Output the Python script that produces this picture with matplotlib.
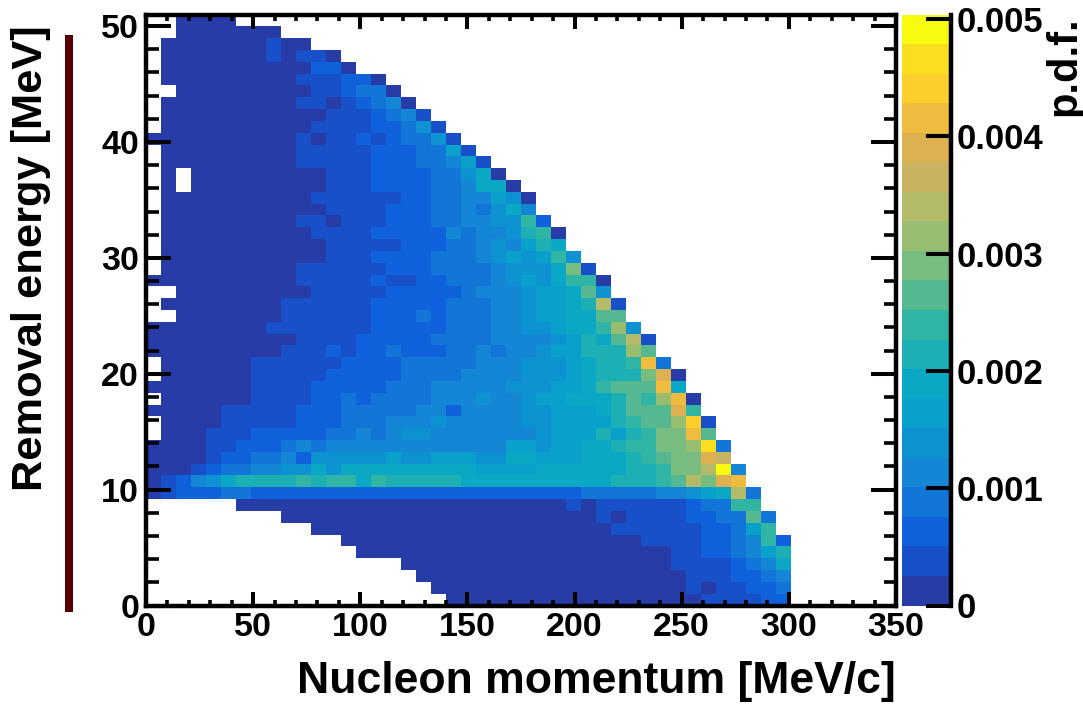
import numpy as np
import matplotlib
matplotlib.use("Agg")
import matplotlib.pyplot as plt
from matplotlib.colors import ListedColormap, BoundaryNorm
from matplotlib.patches import Rectangle

plt.rcParams['font.family'] = ['Liberation Sans', 'DejaVu Sans']
plt.rcParams['font.weight'] = 'bold'

X_BINS = 50
X_MAX = 350.0
Y_MAX = 51.0
Z_MAX = 0.00504

PALETTE = ['#283ca8', '#1750c8', '#0f62dc', '#1275d8', '#1585d5', '#0e93d2', '#0aa0cc',
           '#0aa8c4', '#1cb0b4', '#30b5a5', '#55b890', '#78bc80', '#98bc70', '#b3ba68',
           '#c9b260', '#ddb050', '#f0bc40', '#fdcf2a', '#fadf20', '#f8fa10']

# colour level of each cell (0-9, a-j), '.' = empty; first entry is the top row
LEVELS = [
    "..0000",
    "..0000000",
    ".0000000100",
    ".000000010110",
    ".0000000000 220",
    ".000000000 111220",
    "..000000000 112330",
    ".000000000 11012340",
    ".00000000000 1112341",
    ".0000000000 1111 22351",
    "0000000000 10112123351",
    ".000000000 11111222 3361",
    ".000000000 11111222 33461",
    ".0.000000000 111 2222 33570",
    ".0.000000000 111 2222 334770",
    ".0000000000 111111 22 33 44650",
    ".00000000000 1111222 33 43574",
    ".000000000 110 111 222 33 445592",
    ".0000000000 1111 22222 43445890",
    ".00000000000 11111222 33 454687",
    ".00000000000 111 2222 333 4565695",
    ".000000000 111111 222 333 345557b1",
    "0000000000 11111 2 11 22 33 345657990",
    "..000000000 11111 22222 3 4445667a5",
    ".00000000 111111 22222 33 34456678d1",
    "..0000000 111111 222 3 2 33 34456677aa",
    "00000000 1111111 22222 33 34455677 9c5",
    "0000000000 1111 22222 333 344445687ad1",
    "000000000 111 2 1 22 3 2 2233 4344566888ca",
    ".000000 111111 2222 33333 44455567889g3",
    ".000000 11111 22222 3333 4 44455567888bf0",
    "0000000 1111 22222 333 444 44555667 9aaag7",
    ".000000 1111 22 3 2 3333 444 544566777 8a9cg0",
    "00000 11111 222 33333 44 2 4 444556667 8aaaf9",
    ".0000 11111 222 333 444 5 44 444556666 89aach1",
    ".000 111 22222 33 4 3 4 55 44 4 444456668 689bbga",
    "0000 11 222 3 4 3 444444 4 444 446656677 899bbci3",
    "0000 1 22 33 4 2 55555 6 55 666 557766677 789abbfe",
    "000 1 2 33 44 55 7 5 777 777 777 666677777 7889bbdj4",
    "0124578888 98 99 79 88888 7 777777777 888 9adbfg",
    "01222 33 2222222222222222222222 33333 44 567d3",
    "...... 0000000000000000000000 1 0 111111 23399",
    "......... 000000000000000000000 1 0 1111 2233a3",
    "........... 00000000000000000000 111111 22369",
    "............. 00000000000000000000 1111 223492",
    ".............. 000000000000000000000 11 22 3468",
    "................. 000000000000000000 1111 2347",
    ".................. 000000000000000000 111 2234",
    "................... 00000000000000000 1 0 11 223",
    ".................... 00000000000000000 1111 22",
]

X_TICKS = [0, 50, 100, 150, 200, 250, 300, 350]
Y_TICKS = [0, 10, 20, 30, 40, 50]
Z_TICKS = [0, 0.001, 0.002, 0.003, 0.004, 0.005]
Z_LABELS = ['0', '0.001', '0.002', '0.003', '0.004', '0.005']
X_LABEL = 'Nucleon momentum [MeV/c]'
Y_LABEL = 'Removal energy [MeV]'
Z_LABEL = 'p.d.f.'

W, H = 1083, 704
fig = plt.figure(figsize=(W / 100, H / 100), dpi=100)


def axbox(x0, y0, x1, y1):
    return [x0 / W, 1 - y1 / H, (x1 - x0) / W, (y1 - y0) / H]


DIGITS = '0123456789abcdefghij'
n_levels = len(PALETTE)
step = Z_MAX / n_levels
grid = np.full((len(LEVELS), X_BINS), np.nan)
for i, row in enumerate(reversed(LEVELS)):
    for j, ch in enumerate(row.replace(' ', '')):
        if ch != '.':
            grid[i, j] = (DIGITS.index(ch) + 0.5) * step

cmap = ListedColormap(PALETTE)
edges = np.linspace(0, Z_MAX, n_levels + 1)
norm = BoundaryNorm(edges, n_levels)

ax = fig.add_axes(axbox(146, 14.5, 896, 605.5))
ax.pcolormesh(np.linspace(0, X_MAX, X_BINS + 1), np.linspace(0, Y_MAX, len(LEVELS) + 1),
              grid, cmap=cmap, norm=norm, linewidth=0, rasterized=True)
ax.set_xlim(0, X_MAX)
ax.set_ylim(0, Y_MAX)
for s in ax.spines.values():
    s.set_linewidth(3.2)
ax.set_xticks(X_TICKS)
ax.set_yticks(Y_TICKS)
ax.set_xticks(np.arange(0, 351, 10), minor=True)
ax.set_yticks(np.arange(0, 51, 2), minor=True)
ax.tick_params(axis='x', which='major', direction='in', top=True, bottom=True, length=10,
               width=2.9, labelsize=24.5, pad=5)
ax.tick_params(axis='x', which='minor', direction='in', top=True, bottom=True, length=4.5, width=2.6)
ax.tick_params(axis='y', which='major', direction='in', left=True, right=True, length=18,
               width=2.9, labelsize=24.5, pad=5)
ax.tick_params(axis='y', which='minor', direction='in', left=True, right=True, length=9, width=2.6)
ax.set_axisbelow(False)
fig.text(596.5 / W, 1 - 681 / H, X_LABEL, ha='center', va='center', fontsize=32, fontweight='bold')
fig.text(31 / W, 1 - 258.5 / H, Y_LABEL, ha='center', va='center', rotation=90, fontsize=31.2,
         fontweight='bold')

cax = fig.add_axes(axbox(902, 14.5, 951, 605.5))
cax.pcolormesh([0, 1], edges, np.array(edges[:-1] + step / 2).reshape(-1, 1), cmap=cmap, norm=norm,
               linewidth=0, rasterized=True)
cax.set_xlim(0, 1)
cax.set_ylim(0, Z_MAX)
cax.set_xticks([])
for name, s in cax.spines.items():
    s.set_visible(name == 'right')
    s.set_linewidth(3.2)
cax.yaxis.tick_right()
cax.set_yticks(Z_TICKS)
cax.set_yticklabels(Z_LABELS)
cax.tick_params(axis='y', direction='in', length=18, width=2.9, labelsize=25, pad=4)
fig.text(1064 / W, 1 - 66 / H, Z_LABEL, ha='center', va='center', rotation=90, fontsize=30,
         fontweight='bold')

fig.add_artist(Rectangle((65 / W, 1 - 611.5 / H), 8 / W, 576.5 / H, transform=fig.transFigure,
                         facecolor='#5a0005', edgecolor='none'))

fig.savefig('out.png', dpi=100, facecolor='white')
